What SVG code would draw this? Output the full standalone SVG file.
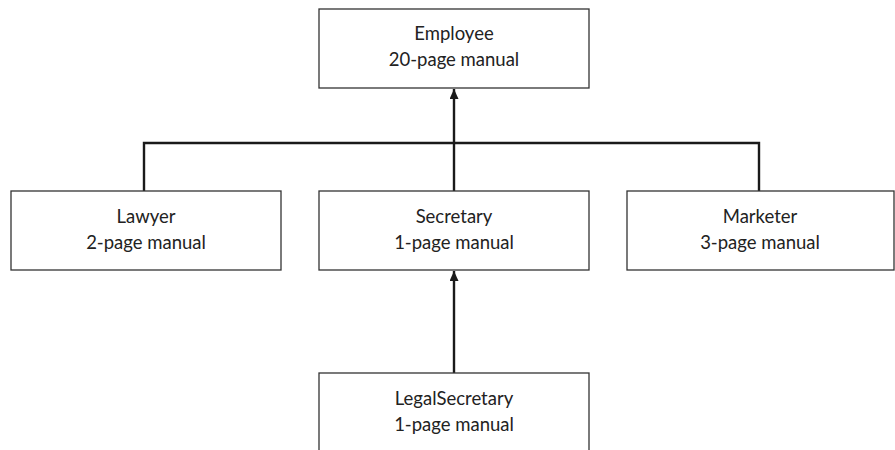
<svg xmlns="http://www.w3.org/2000/svg" width="895" height="450" viewBox="0 0 895 450">
<style>
.box{fill:#fff;stroke:#333;stroke-width:1.3}
.lbl{font-family:Lato,"Open Sans",sans-serif;font-size:18.5px;fill:#222;text-anchor:middle}
.conn{fill:none;stroke:#1a1a1a;stroke-width:2.4}
</style>
<defs>
<marker id="arr" markerUnits="userSpaceOnUse" markerWidth="10" markerHeight="12" refX="10" refY="4.5" orient="auto">
<path d="M0,0 L10,4.5 L0,9 Z" fill="#1a1a1a"/>
</marker>
</defs>
<rect width="895" height="450" fill="#fff"/>
<g id="connectors">
<path class="conn" d="M144,191 V143 H759 V191"/>
<path class="conn" d="M454,191 V89" marker-end="url(#arr)"/>
<path class="conn" d="M454,373 V271" marker-end="url(#arr)"/>
</g>
<g id="employee">
<rect class="box" x="319" y="9" width="270" height="79"/>
<text class="lbl" x="454" y="40">Employee</text>
<text class="lbl" x="454" y="66">20-page manual</text>
</g>
<g id="lawyer">
<rect class="box" x="11" y="191" width="270" height="79"/>
<text class="lbl" x="146" y="223">Lawyer</text>
<text class="lbl" x="146" y="249">2-page manual</text>
</g>
<g id="secretary">
<rect class="box" x="319" y="191" width="270" height="79"/>
<text class="lbl" x="454" y="223">Secretary</text>
<text class="lbl" x="454" y="249">1-page manual</text>
</g>
<g id="marketer">
<rect class="box" x="627" y="191" width="267" height="79"/>
<text class="lbl" x="760" y="223">Marketer</text>
<text class="lbl" x="760" y="249">3-page manual</text>
</g>
<g id="legalsecretary">
<rect class="box" x="319" y="373" width="270" height="90"/>
<text class="lbl" x="454" y="405">LegalSecretary</text>
<text class="lbl" x="454" y="431">1-page manual</text>
</g>
</svg>
